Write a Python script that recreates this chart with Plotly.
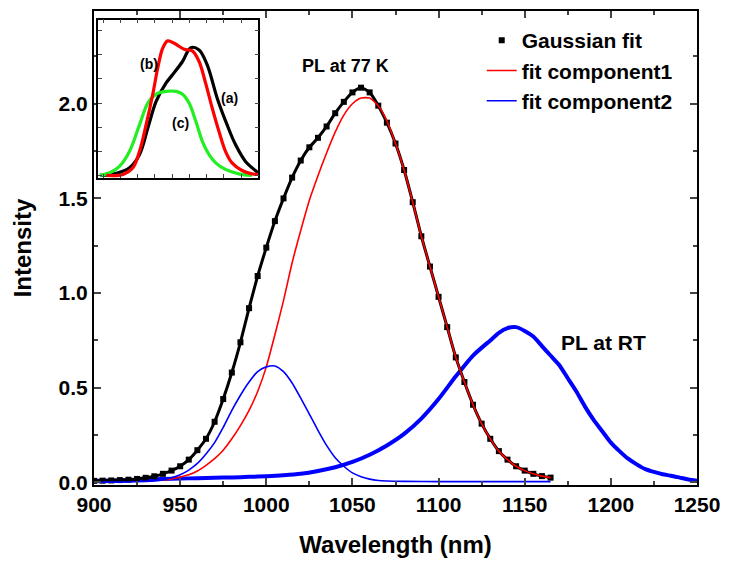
import plotly.graph_objects as go

# ---------------- main panel data ----------------
gauss_x = [900, 905, 910, 915, 920, 925, 930, 935, 940, 945, 950, 955, 960, 965, 970, 975,
           980, 985, 990, 995, 1000, 1005, 1010, 1015, 1020, 1025, 1030, 1035, 1040, 1045,
           1050, 1055, 1060, 1065, 1070, 1075, 1080, 1085, 1090, 1095, 1100, 1105, 1110,
           1115, 1120, 1125, 1130, 1135, 1140, 1145, 1150, 1155, 1160, 1165]
gauss_y = [0.008, 0.009, 0.010, 0.012, 0.014, 0.018, 0.024, 0.032, 0.045, 0.062, 0.085, 0.12,
           0.17, 0.23, 0.32, 0.44, 0.58, 0.74, 0.92, 1.09, 1.24, 1.38, 1.50, 1.61, 1.70, 1.77,
           1.82, 1.88, 1.95, 2.01, 2.06, 2.085, 2.06, 1.99, 1.90, 1.79, 1.65, 1.48, 1.30, 1.14,
           0.98, 0.82, 0.66, 0.53, 0.41, 0.31, 0.23, 0.165, 0.12, 0.085, 0.062, 0.045, 0.033, 0.025]

comp1_x = [940, 945, 950, 955, 960, 965, 970, 975, 980, 985, 990, 995, 1000, 1005, 1010, 1015,
           1020, 1025, 1030, 1035, 1040, 1045, 1050, 1055, 1060, 1065, 1070, 1075, 1080, 1085,
           1090, 1095, 1100, 1105, 1110, 1115, 1120, 1125, 1130, 1135, 1140, 1145, 1150, 1155,
           1160, 1165]
comp1_y = [0.012, 0.018, 0.028, 0.04, 0.06, 0.09, 0.125, 0.17, 0.23, 0.30, 0.38, 0.48, 0.61,
           0.78, 0.96, 1.16, 1.33, 1.49, 1.62, 1.74, 1.85, 1.94, 2.00, 2.03, 2.03, 1.99, 1.91,
           1.79, 1.65, 1.48, 1.30, 1.14, 0.98, 0.82, 0.66, 0.53, 0.41, 0.31, 0.23, 0.165, 0.12,
           0.085, 0.062, 0.045, 0.033, 0.025]

comp2_x = [900, 910, 920, 930, 935, 940, 945, 950, 955, 960, 965, 970, 975, 980, 985, 990, 995,
           1000, 1005, 1010, 1015, 1020, 1025, 1030, 1035, 1040, 1045, 1050, 1055, 1060, 1065,
           1070, 1080, 1100, 1130, 1165]
comp2_y = [0.0, 0.001, 0.002, 0.005, 0.008, 0.014, 0.024, 0.04, 0.065, 0.10, 0.15, 0.21, 0.29,
           0.38, 0.46, 0.53, 0.585, 0.61, 0.615, 0.585, 0.525, 0.445, 0.36, 0.275, 0.195, 0.13,
           0.085, 0.05, 0.03, 0.017, 0.01, 0.007, 0.005, 0.004, 0.004, 0.004]

rt_x = [900, 910, 920, 930, 940, 950, 960, 970, 980, 990, 1000, 1010, 1020, 1030, 1040, 1050,
        1060, 1070, 1080, 1090, 1100, 1110, 1120, 1130, 1135, 1140, 1145, 1150, 1155, 1160,
        1165, 1170, 1175, 1180, 1185, 1190, 1195, 1200, 1205, 1210, 1215, 1220, 1225, 1230,
        1235, 1240, 1245, 1250]
rt_y = [0.008, 0.01, 0.012, 0.015, 0.018, 0.02, 0.022, 0.024, 0.026, 0.029, 0.032, 0.037, 0.045,
        0.06, 0.08, 0.108, 0.146, 0.195, 0.256, 0.337, 0.44, 0.56, 0.67, 0.75, 0.79, 0.815, 0.82,
        0.80, 0.77, 0.72, 0.67, 0.62, 0.55, 0.48, 0.40, 0.33, 0.27, 0.21, 0.165, 0.125, 0.095,
        0.07, 0.055, 0.043, 0.035, 0.025, 0.015, 0.008]

# ---------------- inset data (arbitrary units) ----------------
ins_a_x = [-0.19, 0.77, 1.53, 2.11, 2.59, 3.07, 3.64, 4.02, 4.60, 5.08, 5.56, 6.03, 6.61, 7.18,
           7.67, 8.24, 8.82, 9.0]
ins_a_y = [0.0, 0.017, 0.063, 0.174, 0.393, 0.614, 0.765, 0.835, 0.945, 1.06, 1.041, 0.917,
           0.641, 0.421, 0.256, 0.118, 0.041, 0.022]
ins_b_x = [0.19, 1.15, 1.72, 2.11, 2.49, 2.87, 3.16, 3.45, 3.74, 4.12, 4.70, 5.17, 5.56, 5.94,
           6.32, 6.71, 7.09, 7.47, 8.05, 8.62, 9.0]
ins_b_y = [0.0, 0.008, 0.063, 0.20, 0.421, 0.669, 0.889, 1.055, 1.116, 1.096, 1.046, 1.033,
           0.945, 0.765, 0.559, 0.366, 0.20, 0.104, 0.041, 0.013, 0.008]
ins_c_x = [-0.19, 0.385, 0.96, 1.53, 2.11, 2.59, 3.07, 3.64, 4.22, 4.60, 4.98, 5.37, 5.75,
           6.13, 6.52, 7.09, 7.86, 8.62]
ins_c_y = [0.0, 0.022, 0.077, 0.20, 0.421, 0.60, 0.674, 0.697, 0.697, 0.674, 0.60, 0.449,
           0.283, 0.174, 0.104, 0.05, 0.013, 0.0]

FONT = "Liberation Sans"
RED = "#ff0000"
BLUE = "#0000ff"
GREEN = "#22ee22"

fig = go.Figure()

# main panel traces
fig.add_trace(go.Scatter(x=rt_x, y=rt_y, mode="lines",
                         line=dict(color=BLUE, width=4, shape="spline", smoothing=0.6),
                         showlegend=False, hoverinfo="skip"))
fig.add_trace(go.Scatter(x=gauss_x, y=gauss_y, mode="lines",
                         line=dict(color="black", width=3, shape="spline", smoothing=0.6),
                         showlegend=False, hoverinfo="skip"))
fig.add_trace(go.Scatter(x=gauss_x, y=gauss_y, mode="markers", name="Gaussian fit",
                         marker=dict(symbol="square", size=6, color="black")))
fig.add_trace(go.Scatter(x=comp1_x, y=comp1_y, mode="lines", name="fit component1",
                         line=dict(color=RED, width=1.6, shape="spline", smoothing=0.6)))
fig.add_trace(go.Scatter(x=comp2_x, y=comp2_y, mode="lines", name="fit component2",
                         line=dict(color=BLUE, width=1.6, shape="spline", smoothing=0.6)))

# inset traces
for xs, ys, col in [(ins_a_x, ins_a_y, "black"), (ins_c_x, ins_c_y, GREEN), (ins_b_x, ins_b_y, RED)]:
    fig.add_trace(go.Scatter(x=xs, y=ys, mode="lines", line=dict(color=col, width=3.2, shape="spline"),
                             xaxis="x2", yaxis="y2", showlegend=False, hoverinfo="skip"))

tickfont = dict(family=FONT, size=21, color="black", weight="bold")

fig.update_layout(
    width=729, height=563,
    margin=dict(l=94, r=26, t=9, b=78),
    paper_bgcolor="white", plot_bgcolor="white",
    font=dict(family=FONT, color="black"),
    xaxis=dict(range=[900, 1250], dtick=50, tick0=900, ticks="inside", ticklen=7, tickwidth=1.5,
               showline=True, linewidth=2, linecolor="black", mirror="allticks",
               showgrid=False, zeroline=False, tickfont=tickfont,
               minor=dict(dtick=25, ticks="inside", ticklen=4, tickwidth=1.5, showgrid=False),
               title=dict(text="Wavelength (nm)", font=dict(family=FONT, size=24, weight="bold"),
                          standoff=21)),
    yaxis=dict(range=[-0.014, 2.49], dtick=0.5, tick0=0, ticks="inside", ticklen=7, tickwidth=1.5,
               showline=True, linewidth=2, linecolor="black", mirror="allticks",
               showgrid=False, zeroline=False, tickfont=tickfont, tickformat=".1f",
               minor=dict(dtick=0.25, ticks="inside", ticklen=4, tickwidth=1.5, showgrid=False),
               title=dict(text="Intensity", font=dict(family=FONT, size=24, weight="bold"),
                          standoff=20)),
    xaxis2=dict(domain=[0.0066, 0.2727], anchor="y2", range=[-0.3, 9.0], dtick=1, tick0=0,
                ticks="inside", ticklen=4, tickwidth=1, showline=True, linewidth=1.5,
                linecolor="black", mirror="allticks", showgrid=False, zeroline=False,
                showticklabels=False),
    yaxis2=dict(domain=[0.6475, 0.9817], anchor="x2", range=[-0.022, 1.292], dtick=0.2, tick0=0,
                ticks="inside", ticklen=4, tickwidth=1, showline=True, linewidth=1.5,
                linecolor="black", mirror="allticks", showgrid=False, zeroline=False,
                showticklabels=False),
    legend=dict(x=0.643, y=0.981, xanchor="left", yanchor="top", bgcolor="rgba(0,0,0,0)",
                font=dict(family=FONT, size=21, color="black", weight="bold"),
                tracegroupgap=0, itemwidth=30),
    showlegend=True,
)

fig.add_annotation(x=1046, y=2.198, xref="x", yref="y", text="PL at 77 K", showarrow=False,
                   font=dict(family=FONT, size=18, color="black", weight="bold"))
fig.add_annotation(x=1196, y=0.741, xref="x", yref="y", text="PL at RT", showarrow=False,
                   font=dict(family=FONT, size=21, color="black", weight="bold"))
for txt, ax, ay in [("(a)", 7.32, 0.641), ("(b)", 2.64, 0.922), ("(c)", 4.5, 0.435)]:
    fig.add_annotation(x=ax, y=ay, xref="x2", yref="y2", text=txt, showarrow=False,
                       font=dict(family=FONT, size=14, color="black", weight="bold"))

fig.write_html("out.html")
